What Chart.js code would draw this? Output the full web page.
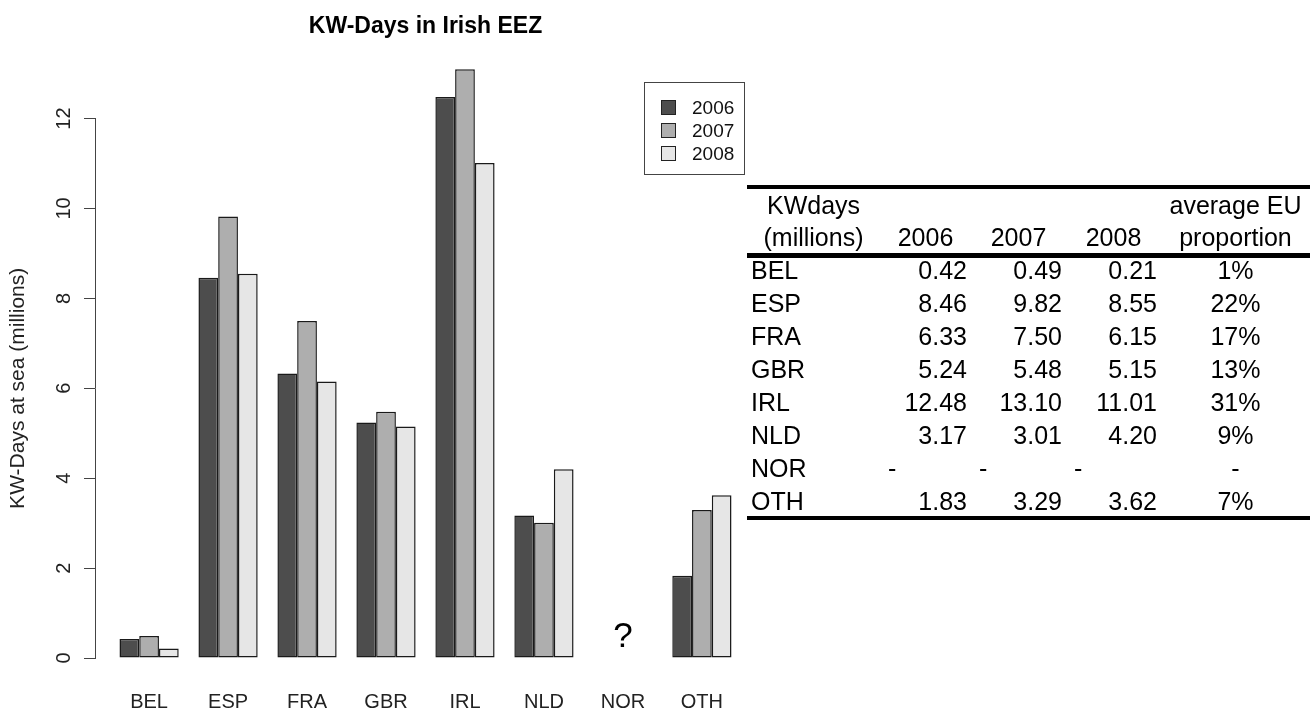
<!DOCTYPE html>
<html>
<head>
<meta charset="utf-8">
<script src="https://cdn.jsdelivr.net/npm/chart.js@4"></script>
<style>
  body { margin: 0; background: #fff; font-family: "Liberation Sans", Arial, sans-serif; }
  #wrap { position: relative; width: 1310px; height: 710px; }
  #chart { position: absolute; left: 0; top: 0; }
  #legend {
    position: absolute; left: 644px; top: 82px; width: 99px; height: 91px;
    border: 1.5px solid #444; font-size: 19px; color: #111;
  }
  #legend .row { position: absolute; left: 16px; height: 23px; line-height: 23px; }
  #legend .sw { display: inline-block; width: 13px; height: 13px; border: 1.5px solid #222;
    vertical-align: -1px; margin-right: 16px; }
  #kwTable {
    position: absolute; left: 747px; top: 185px; width: 563px;
    border-collapse: collapse; table-layout: fixed; font-size: 25px; color: #000;
    border-top: 4px solid #000; border-bottom: 4px solid #000;
  }
  #kwTable td { padding: 0 4px; white-space: nowrap; }
  #kwTable tr.head td { height: 32px; line-height: 32px; }
  #kwTable tr.hlast td { border-bottom: 5px solid #000; }
  #kwTable tr.data td { height: 25px; line-height: 25px; padding-bottom: 8px; }
  #kwTable tr.data:last-child td { padding-bottom: 2px; }
  #kwTable .c { text-align: center; }
  #kwTable .r { text-align: right; }
  #kwTable .l { text-align: left; }
</style>
</head>
<body>
<div id="wrap">
  <canvas id="chart" width="760" height="710"></canvas>
  <div id="legend"></div>
  <table id="kwTable">
    <colgroup><col style="width:133px"><col style="width:91px"><col style="width:95px"><col style="width:95px"><col style="width:149px"></colgroup>
    <tbody id="kwBody"></tbody>
  </table>
</div>
<script>
// KW-days at sea in the Irish EEZ, millions
const categories = ["BEL", "ESP", "FRA", "GBR", "IRL", "NLD", "NOR", "OTH"];
const years = ["2006", "2007", "2008"];
const kw2006 = [0.42, 8.46, 6.33, 5.24, 12.48, 3.17, null, 1.83];
const kw2007 = [0.49, 9.82, 7.50, 5.48, 13.10, 3.01, null, 3.29];
const kw2008 = [0.21, 8.55, 6.15, 5.15, 11.01, 4.20, null, 3.62];
const euShare = ["1%", "22%", "17%", "13%", "31%", "9%", "-", "7%"];
const yTicks = [0, 2, 4, 6, 8, 10, 12];
const missingMark = "?";

const greys = ["#4D4D4D", "#AEAEAE", "#E6E6E6"];
const FONT = "'Liberation Sans', Arial, sans-serif";

// draws a "?" above categories with no data
const missingPlugin = {
  id: "missing",
  afterDatasetsDraw(chart) {
    const { ctx, scales } = chart;
    categories.forEach((c, i) => {
      const vals = [kw2006[i], kw2007[i], kw2008[i]];
      if (vals.every(v => v === null)) {
        ctx.save();
        ctx.font = "35px " + FONT;
        ctx.fillStyle = "#000";
        ctx.textAlign = "center";
        ctx.textBaseline = "middle";
        ctx.fillText(missingMark, scales.x.getPixelForValue(i), scales.y.getPixelForValue(0.45));
        ctx.restore();
      }
    });
  }
};

const series = [kw2006, kw2007, kw2008];

const chart = new Chart(document.getElementById("chart"), {
  type: "bar",
  data: {
    datasets: series.map((vals, k) => ({
      label: years[k],
      data: vals.map((v, i) => ({ x: i, y: v })),
      backgroundColor: greys[k],
      borderColor: "#1a1a1a",
      borderWidth: 1.5,
      borderSkipped: false,
      categoryPercentage: 0.75,
      barPercentage: 1,
      clip: false
    }))
  },
  options: {
    responsive: false,
    animation: false,
    devicePixelRatio: 1,
    layout: { padding: { left: 0, right: 4, top: 0, bottom: 0 } },
    plugins: {
      legend: { display: false },
      tooltip: { enabled: false },
      title: {
        display: true,
        text: "KW-Days in Irish EEZ",
        fullSize: false,
        color: "#000",
        font: { family: FONT, size: 23, weight: "bold" },
        padding: { top: 13, bottom: 78 }
      }
    },
    scales: {
      x: {
        type: "linear",
        min: -0.685,
        max: 7.685,
        offset: false,
        grid: { display: false },
        border: { display: false },
        afterBuildTicks: (s) => { s.ticks = categories.map((c, i) => ({ value: i })); },
        afterFit: (s) => { s.height = 52; },
        ticks: {
          autoSkip: false,
          maxRotation: 0,
          padding: 24,
          color: "#222",
          font: { family: FONT, size: 20 },
          callback: (v) => categories[v]
        }
      },
      y: {
        min: 0,
        max: 12,
        afterBuildTicks: (s) => { s.ticks = yTicks.map(v => ({ value: v })); },
        afterFit: (s) => { s.width = 95; },
        grid: { drawOnChartArea: false, drawTicks: true, tickLength: 11, color: "#444", lineWidth: 1 },
        border: { display: true, color: "#444", width: 1 },
        ticks: {
          minRotation: 90,
          maxRotation: 90,
          crossAlign: "center",
          padding: 8,
          color: "#222",
          font: { family: FONT, size: 20 }
        },
        title: {
          display: true,
          text: "KW-Days at sea (millions)",
          color: "#222",
          font: { family: FONT, size: 21 },
          padding: { top: 6, bottom: 0 }
        }
      }
    }
  },
  plugins: [missingPlugin]
});

// legend built from the chart's datasets
const legendEl = document.getElementById("legend");
chart.data.datasets.forEach((ds, k) => {
  const row = document.createElement("div");
  row.className = "row";
  row.style.top = (13 + k * 23) + "px";
  row.innerHTML = '<span class="sw" style="background:' + ds.backgroundColor + '"></span>' + ds.label;
  legendEl.appendChild(row);
});

// table beside the chart
const body = document.getElementById("kwBody");
const fmt = (v) => v === null ? '<td class="l" style="padding-left:8px">-</td>' : '<td class="r">' + v.toFixed(2) + '</td>';
let rows = '<tr class="head"><td class="c">KWdays</td><td></td><td></td><td></td><td class="c">average EU</td></tr>';
rows += '<tr class="head hlast"><td class="c">(millions)</td>' + years.map(y => '<td class="c">' + y + '</td>').join("") + '<td class="c">proportion</td></tr>';
categories.forEach((c, i) => {
  rows += '<tr class="data"><td class="l">' + c + '</td>' + fmt(kw2006[i]) + fmt(kw2007[i]) + fmt(kw2008[i]) +
    '<td class="c">' + euShare[i] + '</td></tr>';
});
body.innerHTML = rows;
</script>
</body>
</html>
